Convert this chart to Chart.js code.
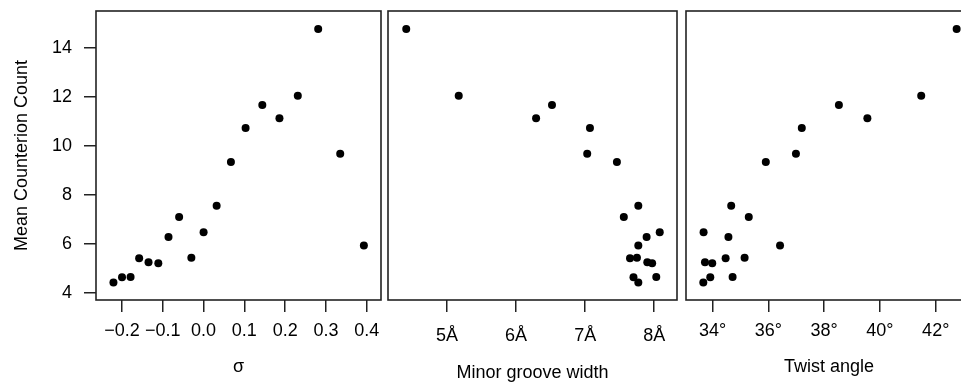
<!DOCTYPE html>
<html>
<head>
<meta charset="utf-8">
<script src="https://cdn.jsdelivr.net/npm/chart.js@4/dist/chart.umd.min.js"></script>
<style>
  html, body { margin: 0; padding: 0; background: #fff; overflow: hidden; }
  #wrap { position: relative; width: 961px; height: 386px; overflow: hidden; }
  canvas { position: absolute; left: 0; top: 0; }
</style>
</head>
<body>
<div id="wrap">
  <canvas id="c1" width="961" height="386"></canvas>
  <canvas id="c2" width="961" height="386"></canvas>
  <canvas id="c3" width="1000" height="386"></canvas>
</div>
<script>
// values, one entry per structure
const counts      = [4.41, 4.63, 4.64, 5.40, 5.24, 5.20, 6.27, 7.09, 5.43, 6.47, 7.55, 9.33, 10.72, 11.66, 11.12, 12.04, 14.76, 9.67, 5.93];
const sigma       = [-0.221, -0.200, -0.179, -0.158, -0.135, -0.111, -0.086, -0.060, -0.030, 0.000, 0.032, 0.067, 0.103, 0.144, 0.186, 0.231, 0.281, 0.335, 0.393];
const grooveWidth = [7.77, 7.70, 8.03, 7.65, 7.90, 7.97, 7.89, 7.56, 7.75, 8.08, 7.77, 7.46, 7.07, 6.52, 6.29, 5.17, 4.41, 7.03, 7.77];
const twistAngle  = [33.67, 33.92, 34.72, 34.47, 33.73, 33.99, 34.57, 35.30, 35.15, 33.68, 34.67, 35.91, 37.20, 38.53, 39.55, 41.48, 42.75, 36.99, 36.42];

const countTicks  = [4, 6, 8, 10, 12, 14];
const sigmaTicks  = [-0.2, -0.1, 0.0, 0.1, 0.2, 0.3, 0.4];
const grooveTicks = [5, 6, 7, 8];
const twistTicks  = [34, 36, 38, 40, 42];

const FONT = '"Liberation Sans", Arial, Helvetica, sans-serif';
const SIZE = 18;
const INK = '#222';

const boxPlugin = {
  id: 'box',
  afterDraw(chart) {
    const { left, top, right, bottom } = chart.chartArea;
    const ctx = chart.ctx;
    ctx.save();
    ctx.strokeStyle = INK;
    ctx.lineWidth = 1.6;
    ctx.strokeRect(left, top, right - left, bottom - top);
    ctx.restore();
  }
};

function noEdgePadding(s) {
  s.paddingTop = 0; s.paddingBottom = 0; s.paddingLeft = 0; s.paddingRight = 0;
}

function makePanel(id, xs, opts) {
  const points = xs.map((x, i) => ({ x: x, y: counts[i] }));
  return new Chart(document.getElementById(id), {
    type: 'scatter',
    data: {
      datasets: [{
        data: points,
        backgroundColor: '#000',
        borderWidth: 0,
        pointRadius: 4,
        pointHoverRadius: 4
      }]
    },
    plugins: [boxPlugin],
    options: {
      responsive: false,
      animation: false,
      events: [],
      layout: { padding: { left: opts.padLeft, right: opts.padRight, top: 11, bottom: 0 } },
      plugins: { legend: { display: false }, tooltip: { enabled: false } },
      scales: {
        x: {
          type: 'linear',
          min: opts.min,
          max: opts.max,
          afterBuildTicks: s => { s.ticks = opts.ticks.map(v => ({ value: v })); },
          afterFit: s => { s.height = 86; noEdgePadding(s); },
          border: { display: false },
          grid: { drawOnChartArea: false, drawTicks: true, tickLength: 12, color: INK, lineWidth: 1.5 },
          ticks: {
            color: '#000',
            font: { family: FONT, size: SIZE },
            padding: opts.tickPad,
            maxRotation: 0,
            autoSkip: false,
            callback: opts.label
          },
          title: {
            display: true,
            text: opts.title,
            color: '#000',
            font: { family: FONT, size: SIZE },
            padding: { top: 0, bottom: opts.titlePad }
          }
        },
        y: {
          type: 'linear',
          display: opts.showY,
          min: 3.7,
          max: 15.5,
          afterBuildTicks: s => { s.ticks = countTicks.map(v => ({ value: v })); },
          afterFit: s => { s.width = opts.showY ? 96 : 0; noEdgePadding(s); },
          border: { display: false },
          grid: { drawOnChartArea: false, drawTicks: true, tickLength: 12, color: INK, lineWidth: 1.5 },
          ticks: {
            color: '#000',
            font: { family: FONT, size: SIZE },
            padding: 12,
            callback: v => String(v)
          },
          title: {
            display: true,
            text: 'Mean Counterion Count',
            color: '#000',
            font: { family: FONT, size: SIZE },
            padding: { top: 11, bottom: 0 }
          }
        }
      }
    }
  });
}

makePanel('c1', sigma, {
  padLeft: 0, padRight: 961 - 381, showY: true,
  min: -0.2638, max: 0.435, ticks: sigmaTicks,
  label: v => v.toFixed(1).replace('-', '\u2212'),
  tickPad: 8, title: '\u03C3', titlePad: 8
});

makePanel('c2', grooveWidth, {
  padLeft: 388, padRight: 961 - 677, showY: false,
  min: 4.146, max: 8.33, ticks: grooveTicks,
  label: v => v + '\u00C5',
  tickPad: 13, title: 'Minor groove width', titlePad: 2
});

makePanel('c3', twistAngle, {
  padLeft: 686, padRight: 1000 - 972, showY: false,
  min: 33.05, max: 43.3, ticks: twistTicks,
  label: v => v + '\u00B0',
  tickPad: 8, title: 'Twist angle', titlePad: 8
});
</script>
</body>
</html>
